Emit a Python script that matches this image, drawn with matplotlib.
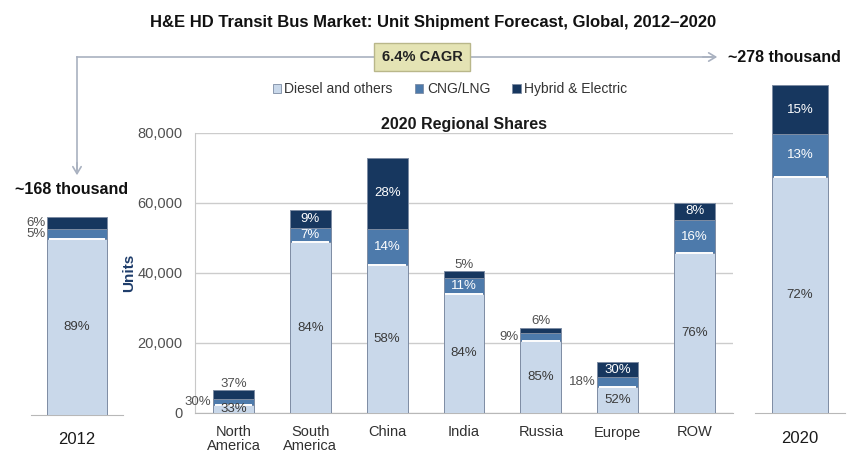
import matplotlib
matplotlib.use("Agg")
import matplotlib.pyplot as plt
import numpy as np

plt.rcParams['font.family'] = ['Liberation Sans', 'DejaVu Sans']

# ---------------- data ----------------
regions = ["North\nAmerica", "South\nAmerica", "China", "India", "Russia", "Europe", "ROW"]
region_totals = [6500, 58000, 73000, 40500, 24300, 14500, 60000]
diesel_pct = [33, 84, 58, 84, 85, 52, 76]
cng_pct = [30, 7, 14, 11, 9, 18, 16]
hybrid_pct = [37, 9, 28, 5, 6, 30, 8]

years = ["2012", "2020"]
year_totals_k = [168, 278]
year_diesel_pct = [89, 72]
year_cng_pct = [5, 13]
year_hybrid_pct = [6, 15]

series_names = ["Diesel and others", "CNG/LNG", "Hybrid & Electric"]
yticks = [0, 20000, 40000, 60000, 80000]
cagr_text = "6.4% CAGR"

# label placement per bar (style): for each segment: 'in', 'left', 'above'
region_place = [("in", "left", "above"), ("in", "in", "in"), ("in", "in", "in"),
                ("in", "in", "above"), ("in", "left", "above"), ("in", "left", "in"),
                ("in", "in", "in")]
year_place = [("in", "left", "left"), ("in", "in", "in")]

colors = ["#c9d8ea", "#4d7aab", "#17375f"]
edge = "#7d8ca3"
txt_colors = ["#3a3a3a", "#ffffff", "#ffffff"]
out_color = "#505050"

W, H = 861, 463
fig = plt.figure(figsize=(W / 100, H / 100), dpi=100)
fig.patch.set_facecolor("white")


def fx(px):
    return px / W


def fy(py):
    return 1 - py / H


def stacked(ax, xs, totals, pcts, places, width, outfs=9.5):
    pcts = np.array(pcts, dtype=float)
    totals = np.array(totals, dtype=float)
    bottoms = np.zeros(len(xs))
    for i in range(3):
        vals = totals * pcts[i] / 100.0
        ax.bar(xs, vals, width, bottom=bottoms, color=colors[i], edgecolor=edge,
               linewidth=0.7, zorder=3)
        if i == 0:
            ax.hlines(bottoms + vals, np.array(xs) - width / 2 + width * 0.04,
                      np.array(xs) + width / 2 - width * 0.04, color="white",
                      linewidth=1.4, zorder=4)
        for j, x in enumerate(xs):
            lab = f"{int(pcts[i][j])}%"
            mid = bottoms[j] + vals[j] / 2
            mode = places[j][i]
            if mode == "in":
                ax.text(x, mid, lab, ha="center", va="center", fontsize=outfs,
                        color=txt_colors[i], zorder=5)
            elif mode == "left":
                ax.text(x - width / 2 - 0.02, mid, lab, ha="right", va="center",
                        fontsize=outfs, color=out_color, zorder=5)
            else:
                top = bottoms[j] + vals[j]
                ax.annotate(lab, (x, top), xytext=(0, 0.5), textcoords="offset points",
                            ha="center", va="bottom", fontsize=outfs, color=out_color,
                            zorder=5)
        bottoms = bottoms + vals


def strip(ax, left=False):
    for s in ["top", "right"]:
        ax.spines[s].set_visible(False)
    ax.spines["left"].set_visible(left)
    ax.spines["left"].set_color("#c8c8c8")
    ax.spines["bottom"].set_color("#b8b8b8")
    ax.tick_params(axis="both", length=0)


# ---------------- middle regional axes ----------------
axm = fig.add_axes([fx(195), fy(413), fx(733 - 195), (413 - 133) / H])
xs = np.arange(len(regions))
stacked(axm, xs, region_totals, [diesel_pct, cng_pct, hybrid_pct], region_place, 0.53)
axm.set_xlim(-0.5, len(regions) - 0.5)
axm.set_ylim(0, 80000)
axm.set_yticks(yticks)
axm.set_yticklabels([f"{v:,}" for v in yticks], fontsize=10.5, color="#505050")
axm.set_xticks(xs)
axm.set_xticklabels(regions, fontsize=10.5, color="#303030", linespacing=1.0)
axm.yaxis.grid(True, color="#cccccc", linewidth=1, zorder=0)
axm.set_axisbelow(True)
strip(axm, left=True)
axm.tick_params(axis="y", pad=9)
axm.tick_params(axis="x", pad=9)
axm.set_ylabel("Units", fontsize=11, fontweight="bold", color="#1f3d6b", labelpad=1)
axm.set_title("2020 Regional Shares", fontsize=11.5, fontweight="bold", color="#1a1a1a", pad=3)

# ---------------- 2012 axes ----------------
ax1 = fig.add_axes([fx(31), fy(415), fx(92), 354 / H])
stacked(ax1, [0], [year_totals_k[0]], [[year_diesel_pct[0]], [year_cng_pct[0]], [year_hybrid_pct[0]]],
        [year_place[0]], 0.65)
ax1.set_xlim(-0.5, 0.5)
ax1.set_ylim(0, 300)
ax1.set_yticks([])
ax1.set_xticks([0])
ax1.set_xticklabels([years[0]], fontsize=12, color="#1a1a1a")
ax1.tick_params(axis="x", pad=12)
strip(ax1)
ax1.patch.set_alpha(0)

# ---------------- 2020 axes ----------------
ax2 = fig.add_axes([fx(755), fy(413), fx(90), 354 / H])
stacked(ax2, [0], [year_totals_k[1]], [[year_diesel_pct[1]], [year_cng_pct[1]], [year_hybrid_pct[1]]],
        [year_place[1]], 0.63)
ax2.set_xlim(-0.5, 0.5)
ax2.set_ylim(0, 300)
ax2.set_yticks([])
ax2.set_xticks([0])
ax2.set_xticklabels([years[1]], fontsize=12, color="#1a1a1a")
ax2.tick_params(axis="x", pad=13)
strip(ax2)
ax2.patch.set_alpha(0)

# ---------------- overlay: title, CAGR arrow, legend ----------------
fig.text(fx(433), fy(22), "H&E HD Transit Bus Market: Unit Shipment Forecast, Global, 2012–2020",
         ha="center", va="center", fontsize=12, fontweight="bold", color="#111111")

line_c = "#a9b1c0"
fig.add_artist(plt.Line2D([fx(77), fx(77)], [fy(57), fy(170)], color=line_c, linewidth=1.2))
fig.add_artist(plt.Line2D([fx(77), fx(712)], [fy(57), fy(57)], color=line_c, linewidth=1.2))
fig.add_artist(matplotlib.patches.FancyArrowPatch((fx(77), fy(160)), (fx(77), fy(178)),
               transform=fig.transFigure, arrowstyle="->,head_length=5,head_width=3",
               color=line_c, linewidth=1.2))
fig.add_artist(matplotlib.patches.FancyArrowPatch((fx(700), fy(57)), (fx(720), fy(57)),
               transform=fig.transFigure, arrowstyle="->,head_length=5,head_width=3",
               color=line_c, linewidth=1.2))

fig.text(fx(422), fy(57), cagr_text, ha="center", va="center", fontsize=10.5,
         fontweight="bold", color="#222222",
         bbox=dict(boxstyle="square,pad=0.5", facecolor="#e4e3b4", edgecolor="#b9b78a",
                   linewidth=1))

fig.text(fx(728), fy(57), f"~{year_totals_k[1]} thousand", ha="left", va="center",
         fontsize=11.5, fontweight="bold", color="#111111")
fig.text(fx(15), fy(190), f"~{year_totals_k[0]} thousand", ha="left", va="center",
         fontsize=11.5, fontweight="bold", color="#111111")

handles = [matplotlib.patches.Patch(facecolor=c, edgecolor=edge, linewidth=0.6) for c in colors]
leg = fig.legend(handles, series_names, loc="center", bbox_to_anchor=(fx(450), fy(89)),
                 ncol=3, frameon=False, fontsize=10, handlelength=0.6, handleheight=0.6,
                 handletextpad=0.25, columnspacing=1.6)
for t in leg.get_texts():
    t.set_color("#333333")

fig.savefig("out.png", dpi=100, facecolor="white")
